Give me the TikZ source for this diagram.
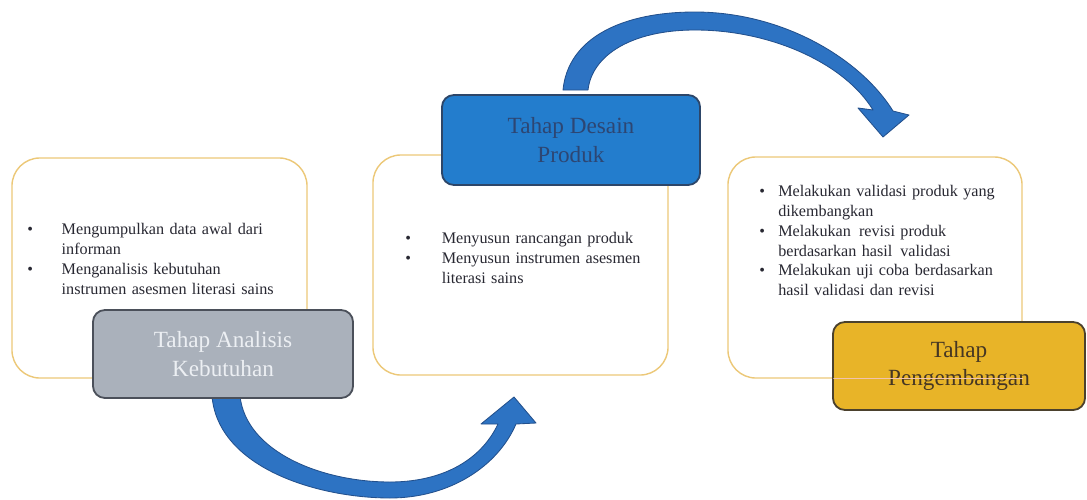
\documentclass[tikz,border=0pt]{standalone}
\usepackage{fontspec}
\setmainfont{Liberation Serif}
\definecolor{ylwline}{RGB}{236,200,120}
\definecolor{grayfill}{RGB}{170,177,187}
\definecolor{graydraw}{RGB}{75,80,90}
\definecolor{graytext}{RGB}{236,239,243}
\definecolor{bluefill}{RGB}{35,125,205}
\definecolor{bluedraw}{RGB}{45,70,105}
\definecolor{bluetext}{RGB}{45,70,115}
\definecolor{goldfill}{RGB}{232,180,40}
\definecolor{golddraw}{RGB}{75,65,45}
\definecolor{goldtext}{RGB}{70,55,35}
\definecolor{arrowfill}{RGB}{45,115,195}
\definecolor{arrowdraw}{RGB}{35,80,140}
\definecolor{bodycol}{RGB}{40,40,50}
\definecolor{pinkline}{RGB}{240,195,175}
\newcommand{\itm}[2]{\par\noindent\hangindent=#1\hangafter=1\hbox to #1{\textbullet\hfil}#2\par}
\tikzset{
  infobox/.style={draw=ylwline, line width=1pt, fill=white, rounded corners=0.7cm,
    minimum width=7.375cm, minimum height=5.5cm, inner sep=0pt},
  stagebox/.style={line width=1.3pt, rounded corners=0.3cm, align=center,
    font=\fontsize{16.5}{20.5}\selectfont, inner sep=0pt},
  graystage/.style={stagebox, fill=grayfill, draw=graydraw, text=graytext},
  bluestage/.style={stagebox, fill=bluefill, draw=bluedraw, text=bluetext},
  goldstage/.style={stagebox, fill=goldfill, draw=golddraw, text=goldtext},
  bodytext/.style={anchor=north west, inner sep=0pt, align=left, text=bodycol,
    font=\fontsize{11.5}{14}\selectfont, text width=7cm},
  bigarrow/.style={fill=arrowfill, draw=arrowdraw, line width=0.6pt, line join=round}
}
\begin{document}
\begin{tikzpicture}[x=0.025cm,y=-0.025cm]
\useasboundingbox (0,0) rectangle (1087,500);
% information boxes
\node[infobox] (box1) at (159.5,268) {};
\node[infobox] (box2) at (520.5,265) {};
\node[infobox, minimum width=7.35cm, minimum height=5.525cm] (box3) at (875,267.5) {};
% texts
\node[bodytext] (t1) at (27,215) {\itm{24.5pt}{Mengumpulkan data awal dari\newline informan}\itm{24.5pt}{Menganalisis kebutuhan\newline instrumen asesmen literasi sains}};
\node[bodytext] (t2) at (405,224) {\itm{26pt}{Menyusun rancangan produk}\itm{26pt}{Menyusun instrumen asesmen\newline literasi sains}};
\node[bodytext] (t3) at (759,177) {\itm{13.5pt}{Melakukan validasi produk yang\newline dikembangkan}\itm{13.5pt}{Melakukan\ \,revisi produk\newline berdasarkan hasil\ \,validasi}\itm{13.5pt}{Melakukan uji coba berdasarkan\newline hasil validasi dan revisi}};
% curved arrows
\draw[bigarrow] (212,396) .. controls (218,468) and (318,498) .. (390,498)
  .. controls (450,498) and (498,466) .. (516,424) -- (536,423) -- (514,397) -- (481,424) -- (498,424)
  .. controls (480,462) and (440,482) .. (390,482)
  .. controls (322,482) and (246,452) .. (240,396) -- cycle;
\draw[bigarrow] (563,90) .. controls (568,38) and (622,12) .. (695,12)
  .. controls (782,12) and (860,58) .. (893,111) -- (909,115) -- (883,137) -- (858,108) -- (873,110)
  .. controls (845,64) and (772,30) .. (695,30)
  .. controls (632,30) and (592,55) .. (588,90) -- cycle;
% stage boxes
\node[graystage, minimum width=6.5cm, minimum height=2.2cm] (analisis) at (223,354) {Tahap Analisis\\Kebutuhan};
\node[bluestage, minimum width=6.45cm, minimum height=2.25cm] (desain) at (571,140) {Tahap Desain\\Produk};
\node[goldstage, minimum width=6.3cm, minimum height=2.2cm] (pengembangan) at (959,366) {Tahap\\Pengembangan};
% outline of box3 showing through the gold box
\begin{scope}
\clip ([xshift=1pt]pengembangan.south west) rectangle ([xshift=-1pt]pengembangan.north east);
\draw[pinkline, line width=1pt] (box3.south west) -- (box3.south east);
\end{scope}
\end{tikzpicture}
\end{document}
